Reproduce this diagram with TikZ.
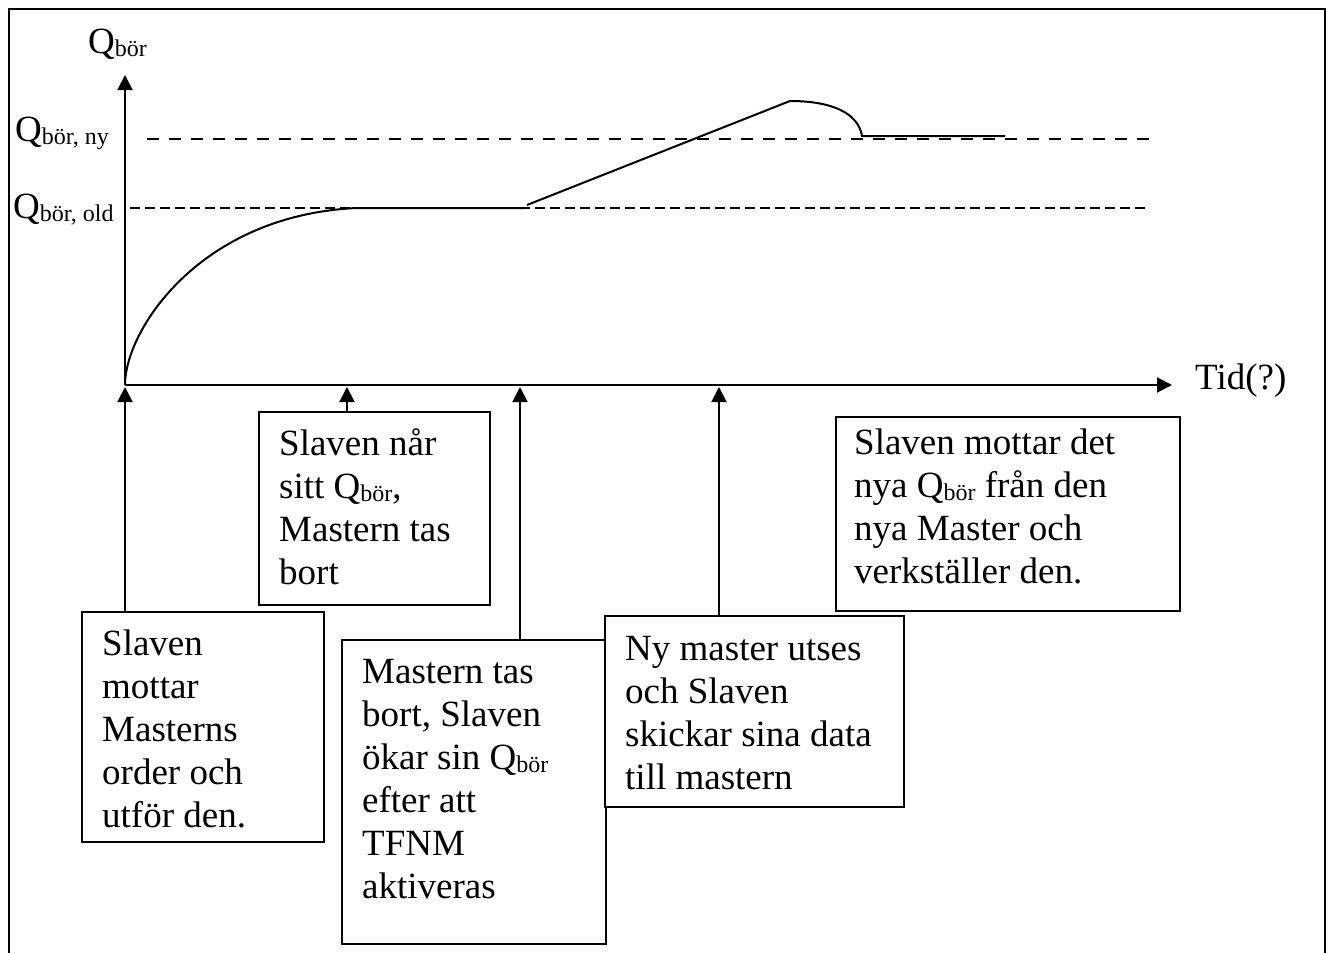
\documentclass[tikz,border=0pt]{standalone}
\usepackage{fontspec}
\setmainfont{Liberation Serif}
\usetikzlibrary{arrows.meta,calc}
\newcommand{\qs}[1]{\raisebox{-3pt}{\fontsize{24}{24}\selectfont #1}}
\begin{document}
\begin{tikzpicture}[x=1pt,y=-1pt,
  every node/.style={font=\fontsize{37}{43}\selectfont},
  ln/.style={line width=2pt},
  tip/.style={-{Triangle[width=15pt,length=15pt]}},
  box/.style={draw, line width=2pt, fill=white, inner sep=0pt, anchor=north west},
  txt/.style={anchor=north west, inner sep=0pt, align=left},
  lbl/.style={anchor=base west, inner sep=0pt}]
\useasboundingbox (0,0) rectangle (1334,953);
\draw[ln] (9,953) -- (9,9) -- (1325,9) -- (1325,953);

% axes
\coordinate (O) at (125,385);
\coordinate (ytop) at (125,75);
\coordinate (xend) at (1172,385);
\draw[ln,tip] (O) -- (ytop);
\draw[ln,tip] (O) -- (xend);

% labels
\node[lbl] (qtop) at (88,53) {Q\qs{bör}};
\node[lbl] (qny) at (15,141) {Q\qs{bör, ny}};
\node[lbl] (qold) at (13,218) {Q\qs{bör, old}};
\node[lbl] (tid) at (1195,389) {Tid(?)};

% dashed levels
\coordinate (ny1) at (147,139);
\coordinate (ny2) at (1158,139);
\coordinate (old1) at (130,208);
\coordinate (old2) at (1148,208);
\draw[line width=2.5pt, dash pattern=on 12pt off 10pt] (ny1) -- (ny2);
\draw[line width=2.5pt, dash pattern=on 10pt off 5pt] (old1) -- (old2);

% curve
\draw[ln] (O) .. controls (125,330) and (200,215) .. (357,208) -- (525,208);
\draw[ln] (527,205) -- (790,101) .. controls (830,101) and (858,112) .. (862,136) -- (1005,136);

% boxes
\node[box, minimum width=242pt, minimum height=230pt] (b1) at (81,611) {};
\node[box, minimum width=231pt, minimum height=193pt] (b2) at (258,411) {};
\node[box, minimum width=264pt, minimum height=304pt] (b3) at (341,639) {};
\node[box, minimum width=299pt, minimum height=191pt] (b4) at (604,615) {};
\node[box, minimum width=344pt, minimum height=194pt] (b5) at (835,416) {};

\node[txt] (t1) at ($(b1.north west)+(21,0)$) {\rule{0pt}{44pt}Slaven\\mottar\\Masterns\\order och\\utför den.};
\node[txt] (t2) at ($(b2.north west)+(21,0)$) {\rule{0pt}{44pt}Slaven når\\sitt Q\qs{bör},\\Mastern tas\\bort};
\node[txt] (t3) at ($(b3.north west)+(21,0)$) {\rule{0pt}{44pt}Mastern tas\\bort, Slaven\\ökar sin Q\qs{bör}\\efter att\\TFNM\\aktiveras};
\node[txt] (t4) at ($(b4.north west)+(21,0)$) {\rule{0pt}{45pt}Ny master utses\\och Slaven\\skickar sina data\\till mastern};
\node[txt] (t5) at ($(b5.north west)+(19,0)$) {\rule{0pt}{38pt}Slaven mottar det\\nya Q\qs{bör} från den\\nya Master och\\verkställer den.};

% event arrows
\coordinate (e1) at (125,387);
\coordinate (e2) at (347,387);
\coordinate (e3) at (520,387);
\coordinate (e4) at (719,387);
\draw[ln,tip] (b1.north -| e1) -- (e1);
\draw[ln,tip] (b2.north -| e2) -- (e2);
\draw[ln,tip] (b3.north -| e3) -- (e3);
\draw[ln,tip] (b4.north -| e4) -- (e4);
\end{tikzpicture}
\end{document}
